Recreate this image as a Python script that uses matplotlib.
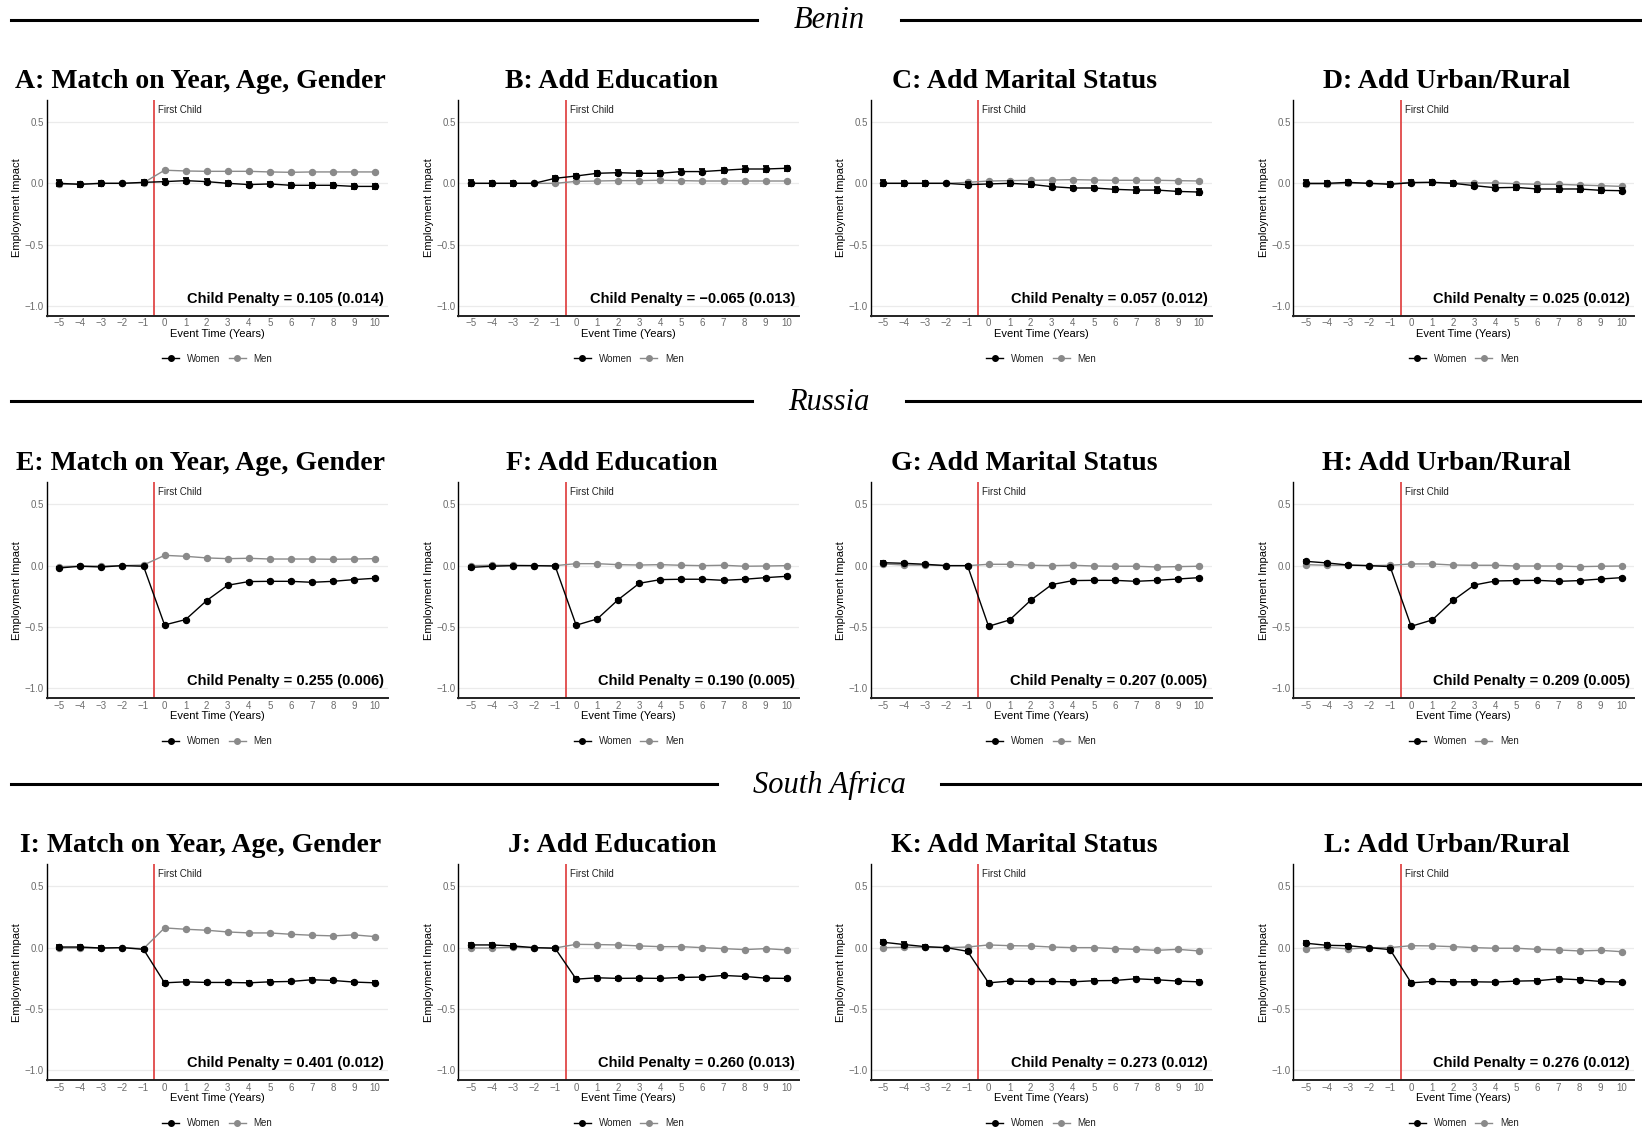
import matplotlib
matplotlib.use("Agg")
import matplotlib.pyplot as plt
from matplotlib.lines import Line2D

plt.rcParams['font.family'] = ['Liberation Sans', 'DejaVu Sans']
plt.rcParams['axes.unicode_minus'] = True

# event time (years relative to first child)
event_time = list(range(-5, 11))

countries = ["Benin", "Russia", "South Africa"]
panel_titles = [
    "A: Match on Year, Age, Gender", "B: Add Education", "C: Add Marital Status", "D: Add Urban/Rural",
    "E: Match on Year, Age, Gender", "F: Add Education", "G: Add Marital Status", "H: Add Urban/Rural",
    "I: Match on Year, Age, Gender", "J: Add Education", "K: Add Marital Status", "L: Add Urban/Rural",
]
penalty_labels = [
    "0.105 (0.014)", "\u22120.065 (0.013)", "0.057 (0.012)", "0.025 (0.012)",
    "0.255 (0.006)", "0.190 (0.005)", "0.207 (0.005)", "0.209 (0.005)",
    "0.401 (0.012)", "0.260 (0.013)", "0.273 (0.012)", "0.276 (0.012)",
]

# Benin
a_women = [0.0, -0.008, 0.0, 0.0, 0.008, 0.014, 0.022, 0.014, 0.0, -0.01, -0.005, -0.016, -0.016, -0.016, -0.025, -0.025]
a_men = [-0.008, -0.005, 0.0, 0.0, 0.005, 0.107, 0.101, 0.098, 0.098, 0.098, 0.093, 0.09, 0.093, 0.093, 0.093, 0.093]
b_women = [0.0, 0.0, 0.0, 0.0, 0.041, 0.06, 0.082, 0.087, 0.082, 0.082, 0.096, 0.096, 0.107, 0.117, 0.117, 0.123]
b_men = [0.0, 0.0, 0.0, 0.0, 0.0, 0.016, 0.019, 0.022, 0.022, 0.025, 0.022, 0.019, 0.019, 0.019, 0.019, 0.019]
c_women = [0.0, 0.0, 0.0, 0.0, -0.011, -0.005, 0.0, -0.008, -0.027, -0.038, -0.038, -0.049, -0.055, -0.055, -0.066, -0.071]
c_men = [0.0, 0.0, 0.0, 0.0, 0.008, 0.019, 0.022, 0.025, 0.027, 0.03, 0.027, 0.025, 0.025, 0.025, 0.022, 0.019]
d_women = [0.0, 0.0, 0.008, 0.0, -0.008, 0.005, 0.008, 0.0, -0.019, -0.036, -0.033, -0.046, -0.046, -0.046, -0.057, -0.06]
d_men = [-0.005, -0.005, 0.0, 0.0, -0.002, 0.008, 0.008, 0.003, 0.003, 0.003, -0.003, -0.008, -0.008, -0.014, -0.019, -0.025]
# Russia
e_women = [-0.019, -0.005, -0.011, 0.0, -0.005, -0.484, -0.44, -0.285, -0.16, -0.13, -0.128, -0.128, -0.136, -0.128, -0.114, -0.103]
e_men = [-0.008, -0.003, -0.003, 0.0, 0.005, 0.084, 0.076, 0.063, 0.057, 0.06, 0.054, 0.054, 0.054, 0.052, 0.054, 0.057]
f_women = [-0.014, -0.005, 0.0, 0.0, -0.003, -0.486, -0.435, -0.277, -0.144, -0.114, -0.111, -0.111, -0.12, -0.111, -0.098, -0.087]
f_men = [0.0, 0.003, 0.003, 0.0, 0.0, 0.016, 0.016, 0.008, 0.005, 0.008, 0.003, 0.0, 0.003, -0.005, -0.003, 0.0]
g_women = [0.024, 0.019, 0.011, 0.0, 0.0, -0.495, -0.443, -0.283, -0.155, -0.122, -0.12, -0.12, -0.128, -0.12, -0.109, -0.098]
g_men = [0.014, 0.005, 0.005, 0.0, 0.0, 0.011, 0.011, 0.003, 0.0, 0.003, -0.003, -0.005, -0.005, -0.011, -0.008, -0.005]
h_women = [0.035, 0.022, 0.005, 0.0, -0.008, -0.495, -0.443, -0.283, -0.158, -0.125, -0.122, -0.12, -0.128, -0.122, -0.109, -0.098]
h_men = [0.008, 0.003, 0.003, 0.0, 0.003, 0.014, 0.014, 0.005, 0.003, 0.003, -0.003, -0.003, -0.003, -0.008, -0.005, -0.003]
# South Africa
i_women = [0.005, 0.005, -0.003, 0.0, -0.014, -0.287, -0.279, -0.284, -0.284, -0.287, -0.279, -0.276, -0.262, -0.268, -0.281, -0.287]
i_men = [-0.003, -0.003, -0.005, 0.0, -0.008, 0.161, 0.15, 0.142, 0.128, 0.12, 0.12, 0.109, 0.101, 0.096, 0.104, 0.09]
j_women = [0.022, 0.022, 0.014, 0.0, -0.005, -0.257, -0.246, -0.251, -0.249, -0.251, -0.243, -0.24, -0.227, -0.235, -0.249, -0.251]
j_men = [-0.003, -0.003, 0.003, 0.0, -0.003, 0.027, 0.025, 0.022, 0.014, 0.008, 0.008, 0.0, -0.008, -0.016, -0.008, -0.019]
k_women = [0.044, 0.025, 0.008, 0.0, -0.03, -0.287, -0.273, -0.276, -0.276, -0.279, -0.27, -0.268, -0.254, -0.262, -0.273, -0.279]
k_men = [0.0, 0.003, 0.003, 0.0, 0.005, 0.022, 0.016, 0.014, 0.005, 0.0, 0.0, -0.008, -0.014, -0.022, -0.014, -0.027]
l_women = [0.036, 0.019, 0.016, 0.0, -0.016, -0.287, -0.276, -0.279, -0.279, -0.281, -0.273, -0.27, -0.254, -0.262, -0.276, -0.281]
l_men = [-0.008, 0.003, -0.011, 0.0, 0.0, 0.016, 0.014, 0.008, 0.0, -0.005, -0.005, -0.014, -0.019, -0.027, -0.022, -0.033]

women_series = [a_women, b_women, c_women, d_women, e_women, f_women,
                g_women, h_women, i_women, j_women, k_women, l_women]
men_series = [a_men, b_men, c_men, d_men, e_men, f_men,
              g_men, h_men, i_men, j_men, k_men, l_men]

# half-widths of confidence intervals (per country)
benin_women_ci = [0.025, 0.022, 0.02, 0.0, 0.02, 0.02, 0.022, 0.02, 0.02, 0.02, 0.02, 0.022, 0.022, 0.022, 0.022, 0.022]
benin_men_ci = [0.01, 0.01, 0.008, 0.0, 0.008, 0.006, 0.006, 0.006, 0.006, 0.006, 0.006, 0.006, 0.006, 0.006, 0.006, 0.006]
russia_women_ci = [0.01, 0.008, 0.008, 0.0, 0.006, 0.008, 0.008, 0.008, 0.008, 0.008, 0.008, 0.008, 0.008, 0.008, 0.008, 0.008]
russia_men_ci = [0.008, 0.006, 0.006, 0.0, 0.005, 0.005, 0.005, 0.005, 0.005, 0.005, 0.005, 0.005, 0.005, 0.005, 0.005, 0.005]
sa_women_ci = [0.018, 0.017, 0.014, 0.0, 0.012, 0.014, 0.012, 0.012, 0.012, 0.012, 0.012, 0.012, 0.012, 0.012, 0.012, 0.012]
sa_men_ci = [0.01, 0.008, 0.008, 0.0, 0.007, 0.007, 0.007, 0.007, 0.007, 0.007, 0.007, 0.007, 0.007, 0.007, 0.007, 0.007]
women_ci = [benin_women_ci, russia_women_ci, sa_women_ci]
men_ci = [benin_men_ci, russia_men_ci, sa_men_ci]

W, H = 1642, 1130
fig = plt.figure(figsize=(W / 100, H / 100), dpi=100)

lefts = [46.7, 458.3, 870.7, 1293.3]
tops = [100, 482.3, 864.3]
ax_w, ax_h = 341, 215.7
header_y = [21, 402.5, 785]

women_col = 'black'
men_col = '#8a8a8a'
red = '#e04848'

for r in range(3):
    for c in range(4):
        k = r * 4 + c
        ax = fig.add_axes([lefts[c] / W, 1 - (tops[r] + ax_h) / H, ax_w / W, ax_h / H])
        ax.set_xlim(-5.6, 10.6)
        ax.set_ylim(-1.08, 0.68)
        ax.set_yticks([-1.0, -0.5, 0.0, 0.5])
        ax.set_yticklabels(['\u22121.0', '\u22120.5', '0.0', '0.5'])
        ax.set_xticks(event_time)
        ax.set_xticklabels([str(t).replace('-', '\u2212') for t in event_time])
        ax.tick_params(length=0, labelsize=7, labelcolor='#6b6b6b', pad=2)
        ax.grid(axis='y', color='#ebebeb', lw=0.9)
        ax.set_axisbelow(True)
        for s in ['top', 'right']:
            ax.spines[s].set_visible(False)
        ax.spines['left'].set_color('black')
        ax.spines['left'].set_linewidth(1.0)
        ax.spines['bottom'].set_color('#222222')
        ax.spines['bottom'].set_linewidth(1.4)

        ax.axvline(-0.5, color=red, lw=1.3, zorder=1)
        ax.text(-0.3, 0.955, "First Child", transform=ax.get_xaxis_transform(),
                fontsize=7, ha='left', va='center', color='#222222')

        ax.errorbar(event_time, men_series[k], yerr=men_ci[r], color=men_col, lw=1.0,
                    marker='o', markersize=4.3, capsize=2.5, elinewidth=1.0, zorder=2)
        ax.errorbar(event_time, women_series[k], yerr=women_ci[r], color=women_col, lw=1.0,
                    marker='o', markersize=4.3, capsize=2.5, elinewidth=1.3, capthick=1.3, zorder=3)

        ax.text(0.988, 0.078, "Child Penalty = " + penalty_labels[k], transform=ax.transAxes,
                fontsize=10.5, fontweight='bold', ha='right', va='center')

        ax.set_ylabel("Employment Impact", fontsize=8)
        ax.yaxis.set_label_coords(-0.072, 0.5)
        ax.set_xlabel("Event Time (Years)", fontsize=8)
        ax.xaxis.set_label_coords(0.5, -0.062)

        handles = [Line2D([], [], color=women_col, marker='o', markersize=4, lw=1.0),
                   Line2D([], [], color=men_col, marker='o', markersize=4, lw=1.0)]
        ax.legend(handles, ["Women", "Men"], loc='center', bbox_to_anchor=(0.5, -0.2),
                  ncol=2, frameon=False, fontsize=7, handlelength=1.75,
                  handletextpad=0.8, columnspacing=0.85, labelcolor='#222222')

        fig.text((lefts[c] + ax_w / 2 - 17) / W, 1 - (tops[r] - 19) / H, panel_titles[k],
                 fontsize=20, fontweight='bold', family='Liberation Serif',
                 ha='center', va='center')

# country headers with rules on both sides
fig.canvas.draw()
renderer = fig.canvas.get_renderer()
for r, name in enumerate(countries):
    y = 1 - header_y[r] / H
    t = fig.text(829 / W, y, name, fontsize=22, style='italic', family='Liberation Serif',
                 ha='center', va='center')
    bb = t.get_window_extent(renderer)
    gap = 36
    ly = 1 - (header_y[r] - 1.5) / H
    fig.add_artist(Line2D([0.007, (bb.x0 - gap) / W], [ly, ly], color='black', lw=2.2,
                          transform=fig.transFigure))
    fig.add_artist(Line2D([(bb.x1 + gap) / W, 1.0], [ly, ly], color='black', lw=2.2,
                          transform=fig.transFigure))

fig.savefig("out.png", dpi=100)
